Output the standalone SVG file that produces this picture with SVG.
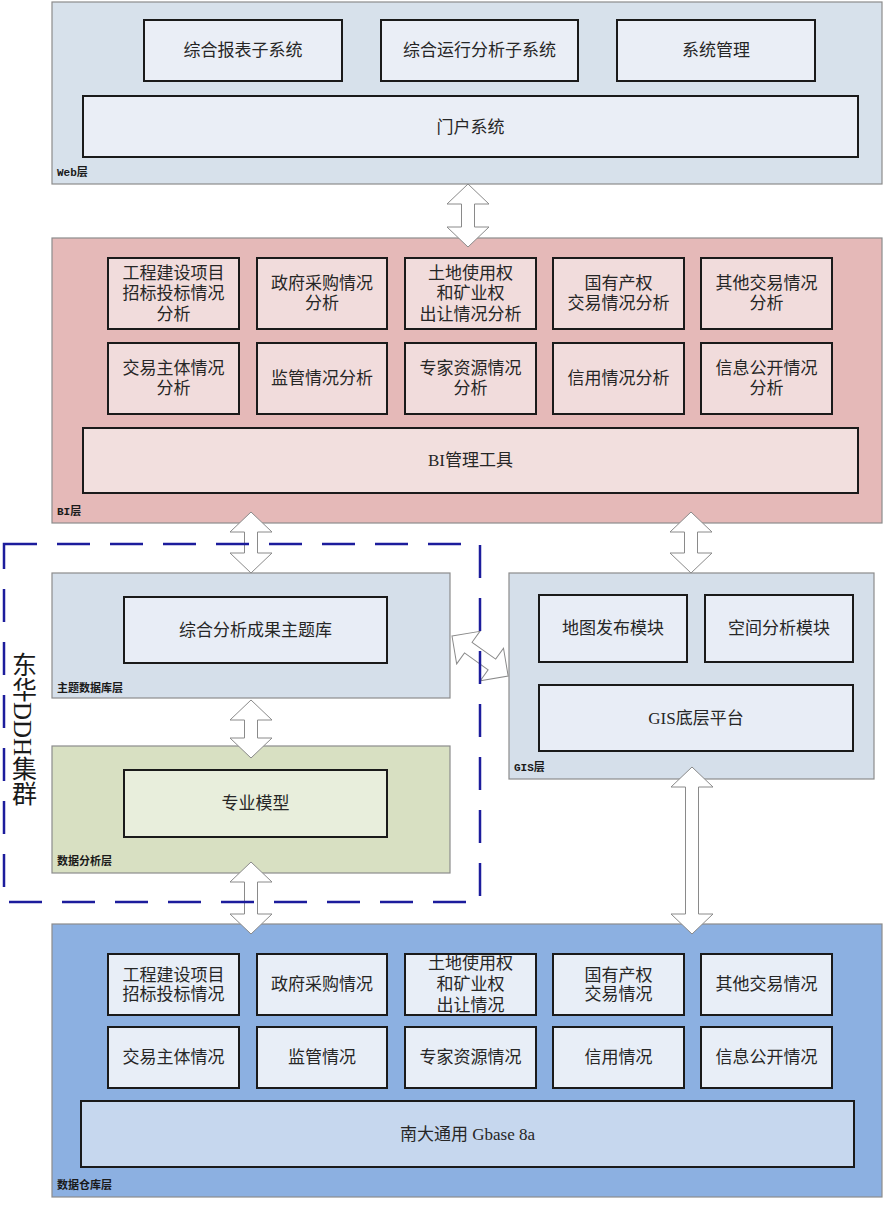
<svg xmlns="http://www.w3.org/2000/svg" width="890" height="1209" viewBox="0 0 890 1209">
<style>
.layer{stroke:#8c8c8c;stroke-width:1.2}
.box{stroke:#1a1a1a;stroke-width:2}
.t{font-family:"Liberation Serif","Noto Sans CJK SC",serif;font-size:17px;fill:#262626;text-anchor:middle;dominant-baseline:central}
.lbl{font-family:"Liberation Mono","Noto Sans CJK SC",monospace;font-size:11px;font-weight:bold;fill:#1a1a1a}
.arr{fill:#ffffff;stroke:#8a8a8a;stroke-width:1}
</style>
<rect width="890" height="1209" fill="#ffffff"/>

<g id="web-layer">
<rect class="layer" x="52" y="2" width="830" height="182" fill="#d7e1eb"/>
<text class="lbl" x="57" y="176">Web层</text>
</g>
<g id="web-report"><rect class="box" x="144" y="20" width="198" height="61" fill="#eaeef6"/><text class="t" x="243" y="50">综合报表子系统</text></g>
<g id="web-analysis"><rect class="box" x="381" y="20" width="197" height="61" fill="#eaeef6"/><text class="t" x="479.5" y="50">综合运行分析子系统</text></g>
<g id="web-sysmgmt"><rect class="box" x="617" y="20" width="198" height="61" fill="#eaeef6"/><text class="t" x="716" y="50">系统管理</text></g>
<g id="web-portal"><rect class="box" x="83" y="96" width="775" height="61" fill="#eaeef6"/><text class="t" x="470.5" y="127">门户系统</text></g>

<g id="bi-layer">
<rect class="layer" x="52" y="238" width="830" height="285" fill="#e5b9b8"/>
<text class="lbl" x="57" y="515">BI层</text>
</g>
<g id="bi-1"><rect class="box" x="108" y="258" width="131" height="71" fill="#f1dcdc"/><text class="t" x="173.5" y="273">工程建设项目</text><text class="t" x="173.5" y="293.5">招标投标情况</text><text class="t" x="173.5" y="314">分析</text></g>
<g id="bi-2"><rect class="box" x="257" y="258" width="130" height="71" fill="#f1dcdc"/><text class="t" x="322" y="283.5">政府采购情况</text><text class="t" x="322" y="303.5">分析</text></g>
<g id="bi-3"><rect class="box" x="405" y="258" width="131" height="71" fill="#f1dcdc"/><text class="t" x="470.5" y="273">土地使用权</text><text class="t" x="470.5" y="293.5">和矿业权</text><text class="t" x="470.5" y="314">出让情况分析</text></g>
<g id="bi-4"><rect class="box" x="553" y="258" width="131" height="71" fill="#f1dcdc"/><text class="t" x="618.5" y="283.5">国有产权</text><text class="t" x="618.5" y="303.5">交易情况分析</text></g>
<g id="bi-5"><rect class="box" x="701" y="258" width="131" height="71" fill="#f1dcdc"/><text class="t" x="766.5" y="283.5">其他交易情况</text><text class="t" x="766.5" y="303.5">分析</text></g>
<g id="bi-6"><rect class="box" x="108" y="343" width="131" height="71" fill="#f1dcdc"/><text class="t" x="173.5" y="368">交易主体情况</text><text class="t" x="173.5" y="388">分析</text></g>
<g id="bi-7"><rect class="box" x="257" y="343" width="130" height="71" fill="#f1dcdc"/><text class="t" x="322" y="378">监管情况分析</text></g>
<g id="bi-8"><rect class="box" x="405" y="343" width="131" height="71" fill="#f1dcdc"/><text class="t" x="470.5" y="368">专家资源情况</text><text class="t" x="470.5" y="388">分析</text></g>
<g id="bi-9"><rect class="box" x="553" y="343" width="131" height="71" fill="#f1dcdc"/><text class="t" x="618.5" y="378">信用情况分析</text></g>
<g id="bi-10"><rect class="box" x="701" y="343" width="131" height="71" fill="#f1dcdc"/><text class="t" x="766.5" y="368">信息公开情况</text><text class="t" x="766.5" y="388">分析</text></g>
<g id="bi-tool"><rect class="box" x="83" y="428" width="775" height="65" fill="#f2dfde"/><text class="t" x="470.5" y="460.5">BI管理工具</text></g>

<g id="theme-layer">
<rect class="layer" x="52" y="573" width="398" height="125" fill="#d5dfea"/>
<text class="lbl" x="57" y="692">主题数据库层</text>
</g>
<g id="theme-db"><rect class="box" x="124" y="597" width="263" height="66" fill="#e8edf6"/><text class="t" x="255.5" y="630">综合分析成果主题库</text></g>

<g id="analysis-layer">
<rect class="layer" x="52" y="746" width="398" height="127" fill="#d8e0c2"/>
<text class="lbl" x="57" y="865">数据分析层</text>
</g>
<g id="model"><rect class="box" x="124" y="770" width="263" height="67" fill="#e8eedc"/><text class="t" x="255.5" y="803.5">专业模型</text></g>

<g id="gis-layer">
<rect class="layer" x="509" y="573" width="365" height="206" fill="#d5dfea"/>
<text class="lbl" x="514" y="771">GIS层</text>
</g>
<g id="gis-map"><rect class="box" x="539" y="595" width="148" height="67" fill="#e8edf6"/><text class="t" x="613" y="628.5">地图发布模块</text></g>
<g id="gis-spatial"><rect class="box" x="705" y="595" width="148" height="67" fill="#e8edf6"/><text class="t" x="779" y="628.5">空间分析模块</text></g>
<g id="gis-platform"><rect class="box" x="539" y="685" width="314" height="66" fill="#e8edf6"/><text class="t" x="696" y="718">GIS底层平台</text></g>

<g id="dw-layer">
<rect class="layer" x="52" y="924" width="830" height="273" fill="#8cb0e1"/>
<text class="lbl" x="57" y="1189">数据仓库层</text>
</g>
<g id="dw-1"><rect class="box" x="108" y="954" width="131" height="61" fill="#e8eef7"/><text class="t" x="173.5" y="975">工程建设项目</text><text class="t" x="173.5" y="994">招标投标情况</text></g>
<g id="dw-2"><rect class="box" x="257" y="954" width="130" height="61" fill="#e8eef7"/><text class="t" x="322" y="984.5">政府采购情况</text></g>
<g id="dw-3"><rect class="box" x="405" y="954" width="131" height="61" fill="#e8eef7"/><text class="t" x="470.5" y="963">土地使用权</text><text class="t" x="470.5" y="984">和矿业权</text><text class="t" x="470.5" y="1005">出让情况</text></g>
<g id="dw-4"><rect class="box" x="553" y="954" width="131" height="61" fill="#e8eef7"/><text class="t" x="618.5" y="975">国有产权</text><text class="t" x="618.5" y="994">交易情况</text></g>
<g id="dw-5"><rect class="box" x="701" y="954" width="131" height="61" fill="#e8eef7"/><text class="t" x="766.5" y="984.5">其他交易情况</text></g>
<g id="dw-6"><rect class="box" x="108" y="1027" width="131" height="61" fill="#e8eef7"/><text class="t" x="173.5" y="1057.5">交易主体情况</text></g>
<g id="dw-7"><rect class="box" x="257" y="1027" width="130" height="61" fill="#e8eef7"/><text class="t" x="322" y="1057.5">监管情况</text></g>
<g id="dw-8"><rect class="box" x="405" y="1027" width="131" height="61" fill="#e8eef7"/><text class="t" x="470.5" y="1057.5">专家资源情况</text></g>
<g id="dw-9"><rect class="box" x="553" y="1027" width="131" height="61" fill="#e8eef7"/><text class="t" x="618.5" y="1057.5">信用情况</text></g>
<g id="dw-10"><rect class="box" x="701" y="1027" width="131" height="61" fill="#e8eef7"/><text class="t" x="766.5" y="1057.5">信息公开情况</text></g>
<g id="dw-gbase"><rect class="box" x="81" y="1101" width="773" height="66" fill="#c6d7ee"/><text class="t" x="467.5" y="1134" xml:space="preserve">南大通用 Gbase 8a</text></g>

<g id="connectors">
<path class="arr" d="M468,184 L489,204 L474.5,204 L474.5,227 L489,227 L468,247 L447,227 L461.5,227 L461.5,204 L447,204 Z"/>
<path class="arr" d="M251,512 L272,532 L257.5,532 L257.5,553 L272,553 L251,573 L230,553 L244.5,553 L244.5,532 L230,532 Z"/>
<path class="arr" d="M691,512 L712,532 L697.5,532 L697.5,553 L712,553 L691,573 L670,553 L684.5,553 L684.5,532 L670,532 Z"/>
<path class="arr" d="M251,700 L272,720 L257.5,720 L257.5,738 L272,738 L251,758 L230,738 L244.5,738 L244.5,720 L230,720 Z"/>
<path class="arr" d="M251,862 L272,882 L257.5,882 L257.5,914 L272,914 L251,934 L230,914 L244.5,914 L244.5,882 L230,882 Z"/>
<path class="arr" d="M692,767 L713,787 L698.5,787 L698.5,914 L713,914 L692,934 L671,914 L685.5,914 L685.5,787 L671,787 Z"/>
<path class="arr" transform="translate(452,636) rotate(35.5)" d="M0,0 L20,-20 L20,-6.5 L49,-6.5 L49,-20 L69,0 L49,20 L49,6.5 L20,6.5 L20,20 Z"/>
</g>

<g id="ddh-cluster">
<rect x="4" y="544" width="476" height="358" fill="none" stroke="#1c1c9c" stroke-width="2.5" stroke-dasharray="33 20"/>
<text x="22" y="652" style="writing-mode:vertical-rl" font-family="Liberation Serif,Noto Sans CJK SC,serif" font-size="25" fill="#1a1a1a">东华DDH集群</text>
</g>
</svg>
